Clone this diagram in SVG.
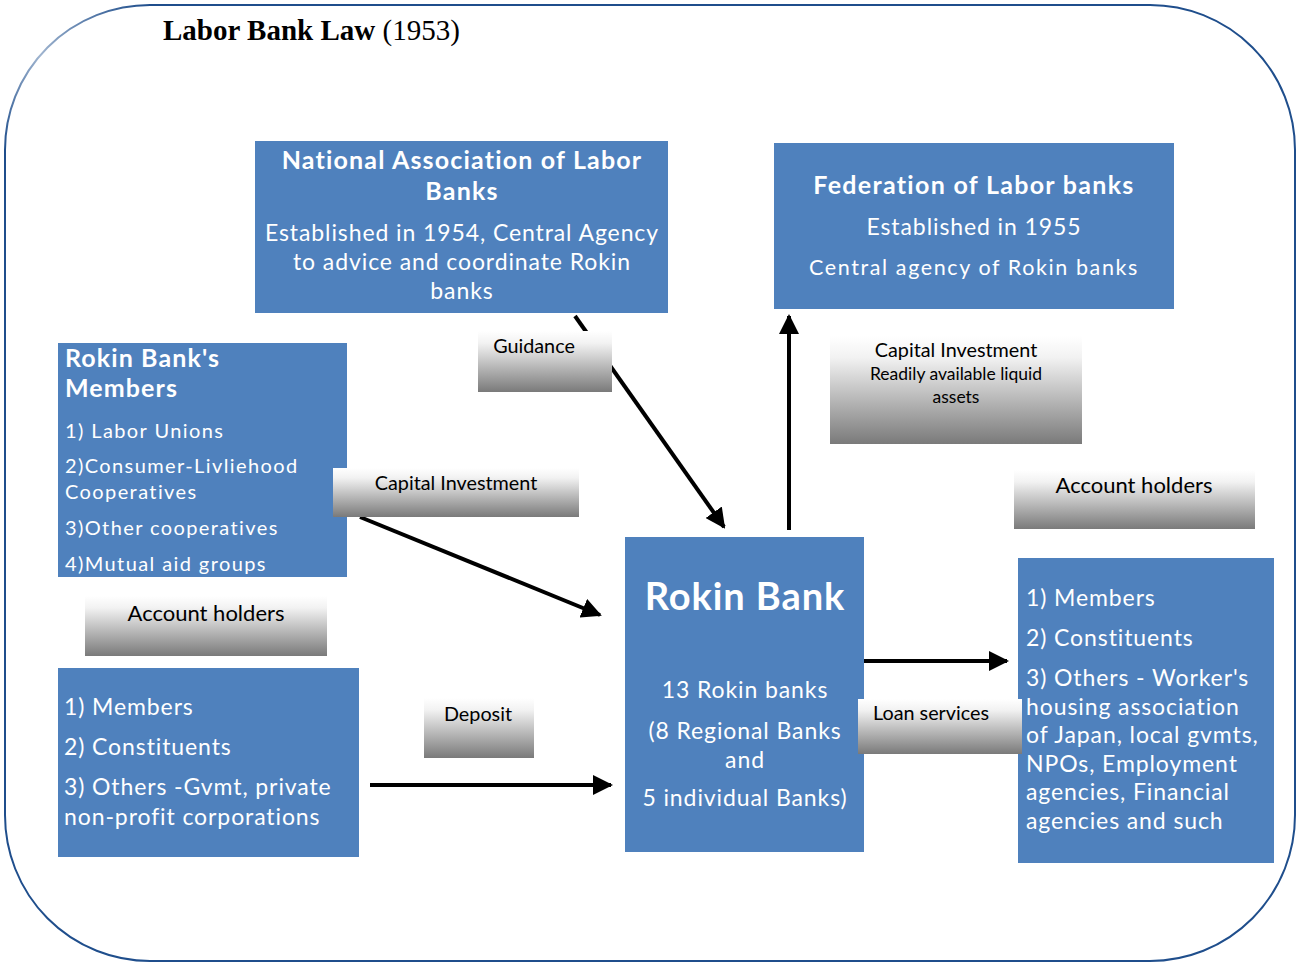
<svg xmlns="http://www.w3.org/2000/svg" width="1297" height="962" viewBox="0 0 1297 962">
<defs>
<linearGradient id="lbl" x1="0" y1="0" x2="0" y2="1">
<stop offset="0" stop-color="#ffffff"/>
<stop offset="0.2" stop-color="#f2f2f2"/>
<stop offset="1" stop-color="#7a7a7a"/>
</linearGradient>
<linearGradient id="fade" x1="0" y1="1" x2="1" y2="0">
<stop offset="0" stop-color="#1f4e8c"/>
<stop offset="0.45" stop-color="#9fb4cf"/>
<stop offset="1" stop-color="#1f4e8c"/>
</linearGradient>
<marker id="ah" viewBox="0 0 10 10" refX="9" refY="5" markerWidth="5" markerHeight="5" orient="auto" markerUnits="strokeWidth">
<path d="M0,0 L10,5 L0,10 Z" fill="#000"/>
</marker>
<style>
.box{fill:#4f81bd}
.lbl{fill:url(#lbl)}
.w{fill:#ffffff;font-family:Lato,"Open Sans",sans-serif}
.b{font-weight:bold}
.k{fill:#000;font-family:Lato,"Open Sans",sans-serif}
.c{text-anchor:middle}
.t{font-size:23px;letter-spacing:0.9px}
.m{font-size:20px;letter-spacing:1.4px}
.conn{stroke:#000;stroke-width:4;fill:none;marker-end:url(#ah)}
</style>
</defs>
<rect width="1297" height="962" fill="#fff"/>
<g id="frame" fill="none" stroke-width="2">
<path d="M150,5 H1150 A145,145 0 0 1 1295,150 V815 A145,146 0 0 1 1150,961 H150 A145,146 0 0 1 5,815 V150" stroke="#1f4e8c"/>
<path d="M5,150 A145,145 0 0 1 150,5" stroke="url(#fade)"/>
</g>
<g id="title">
<text x="163" y="40" font-family="'Liberation Serif',serif" font-size="29" fill="#000"><tspan font-weight="bold">Labor Bank Law</tspan> (1953)</text>
</g>
<g id="connectors">
<line class="conn" x1="575" y1="316" x2="724" y2="527"/>
<line class="conn" x1="360" y1="517" x2="600" y2="615"/>
<line class="conn" x1="789" y1="530" x2="789" y2="316"/>
<line class="conn" x1="860" y1="661" x2="1007" y2="661"/>
<line class="conn" x1="370" y1="785" x2="611" y2="785"/>
</g>
<g id="national-association">
<rect class="box" x="255" y="141" width="413" height="172"/>
<text class="w b c" x="462" y="169" font-size="25" letter-spacing="1.17">National Association of Labor</text>
<text class="w b c" x="462" y="200" font-size="25" letter-spacing="1.17">Banks</text>
<text class="w c t" x="462" y="241">Established in 1954, Central Agency</text>
<text class="w c t" x="462" y="270">to advice and coordinate Rokin</text>
<text class="w c t" x="462" y="299">banks</text>
</g>
<g id="federation">
<rect class="box" x="774" y="143" width="400" height="166"/>
<text class="w b c" x="974" y="194" font-size="25" letter-spacing="1.3">Federation of Labor banks</text>
<text class="w c t" x="974" y="235">Established in 1955</text>
<text class="w c" x="974" y="275" font-size="21.5" letter-spacing="1.6">Central agency of Rokin banks</text>
</g>
<g id="members">
<rect class="box" x="58" y="343" width="289" height="234"/>
<text class="w b" x="65" y="367" font-size="25" letter-spacing="1.1">Rokin Bank's</text>
<text class="w b" x="65" y="397" font-size="25" letter-spacing="1.1">Members</text>
<text class="w m" x="65" y="438">1) Labor Unions</text>
<text class="w m" x="65" y="473">2)Consumer-Livliehood</text>
<text class="w m" x="65" y="499">Cooperatives</text>
<text class="w m" x="65" y="535">3)Other cooperatives</text>
<text class="w m" x="65" y="571">4)Mutual aid groups</text>
</g>
<g id="depositors">
<rect class="box" x="58" y="668" width="301" height="189"/>
<text class="w t" x="64" y="715">1) Members</text>
<text class="w t" x="64" y="755">2) Constituents</text>
<text class="w t" x="64" y="795">3) Others -Gvmt, private</text>
<text class="w t" x="64" y="825">non-profit corporations</text>
</g>
<g id="rokin-bank">
<rect class="box" x="625" y="537" width="239" height="315"/>
<text class="w b c" x="745" y="610" font-size="38" letter-spacing="0.9">Rokin Bank</text>
<text class="w c t" x="745" y="698">13 Rokin banks</text>
<text class="w c t" x="745" y="739">(8 Regional Banks</text>
<text class="w c t" x="745" y="768">and</text>
<text class="w c t" x="745" y="806">5 individual Banks)</text>
</g>
<g id="borrowers">
<rect class="box" x="1018" y="558" width="256" height="305"/>
<text class="w t" x="1026" y="606">1) Members</text>
<text class="w t" x="1026" y="646">2) Constituents</text>
<text class="w t" x="1026" y="686">3) Others - Worker's</text>
<text class="w t" x="1026" y="715">housing association</text>
<text class="w t" x="1026" y="743">of Japan, local gvmts,</text>
<text class="w t" x="1026" y="772">NPOs, Employment</text>
<text class="w t" x="1026" y="800">agencies, Financial</text>
<text class="w t" x="1026" y="829">agencies and such</text>
</g>
<g id="label-guidance">
<rect class="lbl" x="478" y="331" width="134" height="61"/>
<text class="k c" x="534" y="353" font-size="19.8">Guidance</text>
</g>
<g id="label-capital-left">
<rect class="lbl" x="333" y="468" width="246" height="49"/>
<text class="k c" x="456" y="490" font-size="19.8">Capital Investment</text>
</g>
<g id="label-capital-right">
<rect class="lbl" x="830" y="336" width="252" height="108"/>
<text class="k c" x="956" y="357" font-size="19.8">Capital Investment</text>
<text class="k c" x="956" y="380" font-size="17.5">Readily available liquid</text>
<text class="k c" x="956" y="403" font-size="17.5">assets</text>
</g>
<g id="label-account-right">
<rect class="lbl" x="1014" y="470" width="241" height="59"/>
<text class="k c" x="1134" y="493" font-size="22">Account holders</text>
</g>
<g id="label-account-left">
<rect class="lbl" x="85" y="596" width="242" height="60"/>
<text class="k c" x="206" y="621" font-size="22">Account holders</text>
</g>
<g id="label-deposit">
<rect class="lbl" x="424" y="698" width="110" height="60"/>
<text class="k c" x="478" y="721" font-size="19.8">Deposit</text>
</g>
<g id="label-loan">
<rect class="lbl" x="858" y="699" width="164" height="55"/>
<text class="k c" x="931" y="720" font-size="19.8">Loan services</text>
</g>
</svg>
